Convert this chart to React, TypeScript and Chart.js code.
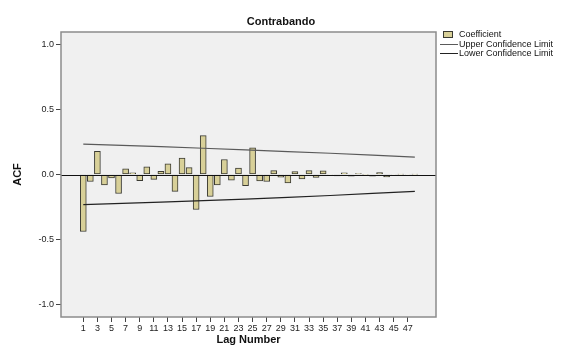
import React, { useEffect, useRef } from "react";
import { Chart, registerables } from "chart.js";

Chart.register(...registerables);

// Autocorrelation coefficients by lag
const lags = [
  1, 2, 3, 4, 5, 6, 7, 8, 9, 10, 11, 12, 13, 14, 15, 16,
  17, 18, 19, 20, 21, 22, 23, 24, 25, 26, 27, 28, 29, 30, 31, 32,
  33, 34, 35, 36, 37, 38, 39, 40, 41, 42, 43, 44, 45, 46, 47, 48,
];
const acf = [
  -0.44, -0.054, 0.178, -0.08, -0.026, -0.147, 0.044, 0.013,
  -0.048, 0.06, -0.038, 0.025, 0.083, -0.13, 0.126, 0.053,
  -0.27, 0.3, -0.17, -0.08, 0.116, -0.044, 0.05, -0.087,
  0.205, -0.05, -0.054, 0.03, -0.02, -0.065, 0.022, -0.034,
  0.03, -0.022, 0.028, -0.004, -0.01, 0.013, -0.012, 0.008,
  -0.003, -0.012, 0.015, -0.018, -0.004, 0.002, -0.004, 0.002,
];

// Confidence limits read at a few lags
const limitLags = [1, 12, 24, 36, 48];
const upperLimit = [0.234, 0.215, 0.19, 0.164, 0.134];
const lowerLimit = [-0.232, -0.213, -0.19, -0.162, -0.13];

const yTicks = [-1, -0.5, 0, 0.5, 1];
const xTicks = [1, 3, 5, 7, 9, 11, 13, 15, 17, 19, 21, 23, 25, 27, 29, 31, 33, 35, 37, 39, 41, 43, 45, 47];

const chartTitle = "Contrabando";
const xTitle = "Lag Number";
const yTitle = "ACF";
const legendLabels = ["Coefficient", "Upper Confidence Limit", "Lower Confidence Limit"];

const FONT = "'Liberation Sans', Arial, sans-serif";
const BAR_FILL = "#d8d098";
const BAR_EDGE = "#3a3a32";
const UPPER_COLOR = "#5a5a5a";
const LOWER_COLOR = "#222222";

const decorPlugin = {
  id: "decor",
  beforeDraw(chart: any) {
    const { ctx, chartArea: a } = chart;
    ctx.save();
    ctx.fillStyle = "#ffffff";
    ctx.fillRect(0, 0, chart.width, chart.height);
    ctx.fillStyle = "#f0f0f0";
    ctx.fillRect(a.left, a.top, a.right - a.left, a.bottom - a.top);
    ctx.restore();
  },
  afterDatasetsDraw(chart: any) {
    const { ctx, chartArea: a, scales } = chart;
    const y0 = Math.round(scales.y.getPixelForValue(0)) + 0.5;
    ctx.save();
    ctx.strokeStyle = "#111";
    ctx.lineWidth = 1;
    ctx.beginPath();
    ctx.moveTo(a.left, y0);
    ctx.lineTo(a.right, y0);
    ctx.stroke();
    ctx.restore();
  },
  afterDraw(chart: any) {
    const { ctx, chartArea: a } = chart;
    ctx.save();
    // plot frame
    ctx.strokeStyle = "#8c8c8c";
    ctx.lineWidth = 1.5;
    ctx.strokeRect(a.left, a.top, a.right - a.left, a.bottom - a.top);

    // titles
    ctx.fillStyle = "#111";
    ctx.textAlign = "center";
    ctx.textBaseline = "middle";
    ctx.font = `bold 11px ${FONT}`;
    ctx.fillText(chartTitle, 281, 22);
    ctx.font = `bold 11px ${FONT}`;
    ctx.fillText(xTitle, (a.left + a.right) / 2, 340);
    ctx.save();
    ctx.translate(18, (a.top + a.bottom) / 2);
    ctx.rotate(-Math.PI / 2);
    ctx.fillText(yTitle, 0, 0);
    ctx.restore();

    // legend
    ctx.textAlign = "left";
    ctx.font = `9px ${FONT}`;
    ctx.fillStyle = BAR_FILL;
    ctx.fillRect(443.5, 31.5, 9, 6);
    ctx.strokeStyle = BAR_EDGE;
    ctx.lineWidth = 1;
    ctx.strokeRect(443.5, 31.5, 9, 6);
    ctx.fillStyle = "#111";
    ctx.fillText(legendLabels[0], 459, 35);

    ctx.strokeStyle = UPPER_COLOR;
    ctx.beginPath();
    ctx.moveTo(440, 44.5);
    ctx.lineTo(458, 44.5);
    ctx.stroke();
    ctx.fillText(legendLabels[1], 459, 44.5);

    ctx.strokeStyle = LOWER_COLOR;
    ctx.beginPath();
    ctx.moveTo(440, 53.5);
    ctx.lineTo(458, 53.5);
    ctx.stroke();
    ctx.fillText(legendLabels[2], 459, 54);
    ctx.restore();
  },
};

export default function App() {
  const canvasRef = useRef<HTMLCanvasElement | null>(null);

  useEffect(() => {
    const canvas = canvasRef.current;
    if (!canvas) return;

    const chart = new Chart(canvas, {
      type: "bar",
      data: {
        datasets: [
          {
            type: "bar",
            label: legendLabels[0],
            data: lags.map((l, i) => ({ x: l, y: acf[i] })),
            backgroundColor: BAR_FILL,
            borderColor: BAR_EDGE,
            borderWidth: 1,
            borderSkipped: false,
            barThickness: 6,
            order: 2,
          } as any,
          {
            type: "line",
            label: legendLabels[1],
            data: limitLags.map((l, i) => ({ x: l, y: upperLimit[i] })),
            borderColor: UPPER_COLOR,
            borderWidth: 1.2,
            pointRadius: 0,
            tension: 0.3,
            order: 1,
          } as any,
          {
            type: "line",
            label: legendLabels[2],
            data: limitLags.map((l, i) => ({ x: l, y: lowerLimit[i] })),
            borderColor: LOWER_COLOR,
            borderWidth: 1.2,
            pointRadius: 0,
            tension: 0.3,
            order: 1,
          } as any,
        ],
      },
      options: {
        responsive: false,
        animation: false,
        devicePixelRatio: 1,
        layout: { padding: { left: 0, right: 130, top: 32, bottom: 0 } },
        plugins: {
          legend: { display: false },
          tooltip: { enabled: false },
          title: { display: false },
        },
        scales: {
          x: {
            type: "linear",
            min: -2.16,
            max: 51.0,
            offset: false,
            grid: { drawOnChartArea: false, drawTicks: true, tickLength: 5, color: "#444", offset: false },
            border: { display: false },
            ticks: {
              autoSkip: false,
              maxRotation: 0,
              padding: 1,
              color: "#222",
              font: { family: FONT, size: 9 },
              callback: (v: any) => String(v),
            },
            afterBuildTicks: (scale: any) => {
              scale.ticks = xTicks.map((v) => ({ value: v }));
            },
            afterFit: (scale: any) => {
              scale.height = 32;
            },
          },
          y: {
            type: "linear",
            min: -1.1,
            max: 1.1,
            grid: { drawOnChartArea: false, drawTicks: true, tickLength: 5, color: "#444" },
            border: { display: false },
            ticks: {
              padding: 2,
              color: "#222",
              font: { family: FONT, size: 9 },
              callback: (v: any) => Number(v).toFixed(1),
            },
            afterBuildTicks: (scale: any) => {
              scale.ticks = yTicks.map((v) => ({ value: v }));
            },
            afterFit: (scale: any) => {
              scale.width = 61;
            },
          },
        },
      } as any,
      plugins: [decorPlugin],
    });

    return () => chart.destroy();
  }, []);

  return (
    <div style={{ position: "absolute", left: 0, top: 0, width: 566, height: 349, background: "#fff" }}>
      <canvas ref={canvasRef} width={566} height={349} style={{ display: "block" }} />
    </div>
  );
}
